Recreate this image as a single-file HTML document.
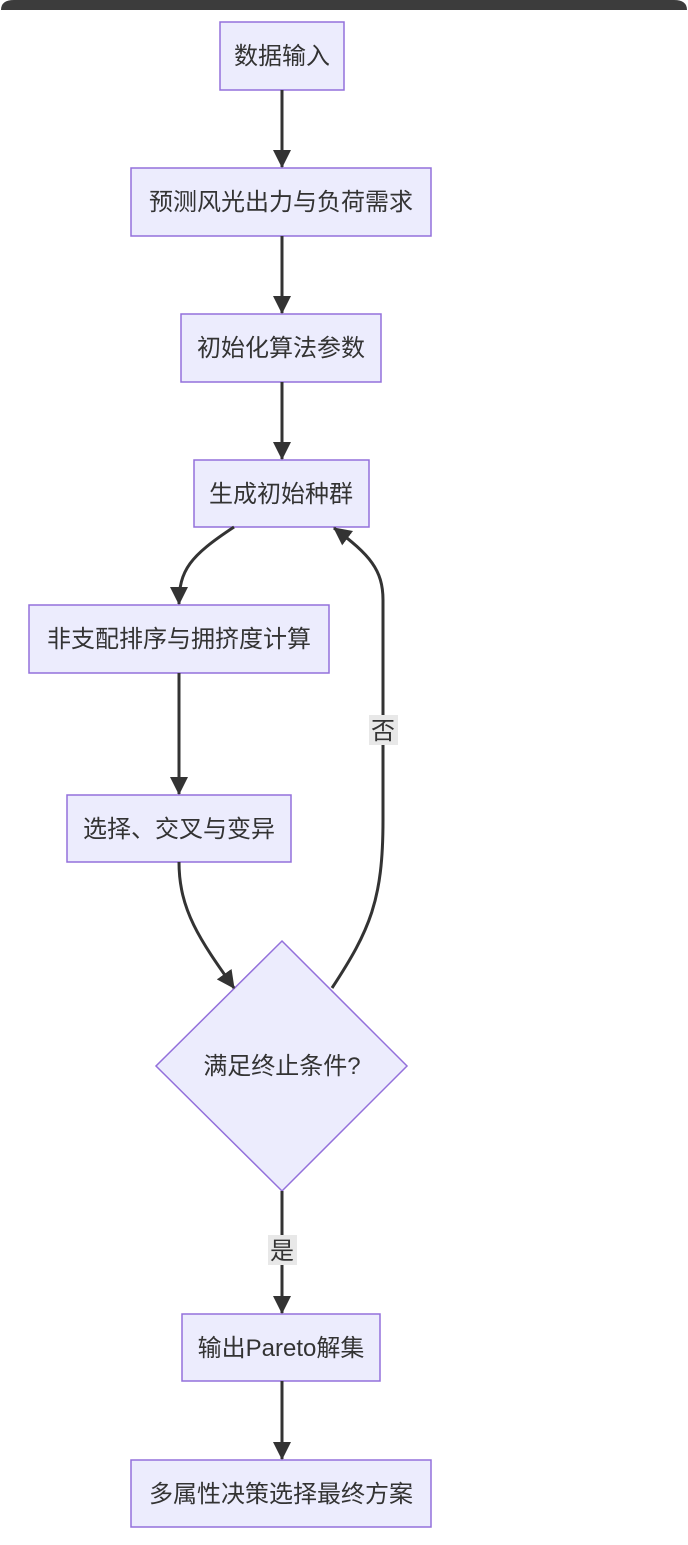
<!DOCTYPE html>
<html><head><meta charset="utf-8"><style>
body{margin:0;background:#fff;}
text{font-family:"Liberation Sans","Noto Sans CJK SC",sans-serif;font-size:24px;fill:#333;}
</style></head><body>
<svg width="688" height="1540" viewBox="0 0 688 1540" xmlns="http://www.w3.org/2000/svg">
<defs><marker id="a" markerWidth="20" markerHeight="20" refX="17" refY="9" orient="auto" markerUnits="userSpaceOnUse"><path d="M0,0 L18,9 L0,18 z" fill="#333"/></marker></defs>
<path d="M1,10 Q1,0 14,0 L674,0 Q687,0 687,10 Z" fill="#3c3c3c"/>
<g fill="#ececfd" stroke="#9370db" stroke-width="1.5">
<rect x="220" y="22" width="124" height="68"/>
<rect x="131" y="168" width="300" height="68"/>
<rect x="181" y="314" width="200" height="68"/>
<rect x="194" y="460" width="175" height="67"/>
<rect x="29" y="605" width="300" height="68"/>
<rect x="67" y="795" width="224" height="67"/>
<polygon points="282,941 407,1066 282,1191 156,1066"/>
<rect x="182" y="1314" width="198" height="67"/>
<rect x="131" y="1460" width="300" height="67"/>
</g>
<g stroke="#333" stroke-width="3" fill="none" marker-end="url(#a)">
<path d="M282,90 L282,167"/>
<path d="M282,236 L282,313"/>
<path d="M282,382 L282,459"/>
<path d="M234,527 C190,556 179,570 179,604"/>
<path d="M179,673 L179,794"/>
<path d="M179,862 C179,910 200,940 234,988"/>
<path d="M332,988 C370,930 383,900 383,820 L383,600 C383,570 370,555 334,528"/>
<path d="M282,1191 L282,1313"/>
<path d="M282,1381 L282,1459"/>
</g>
<rect x="369" y="715" width="29" height="30" fill="#e8e8e8"/>
<text x="383" y="739" text-anchor="middle">否</text>
<rect x="268" y="1235" width="29" height="30" fill="#e8e8e8"/>
<text x="282" y="1259" text-anchor="middle">是</text>
<g text-anchor="middle">
<text x="282" y="64">数据输入</text>
<text x="281" y="210">预测风光出力与负荷需求</text>
<text x="281" y="356">初始化算法参数</text>
<text x="281" y="502">生成初始种群</text>
<text x="179" y="647">非支配排序与拥挤度计算</text>
<text x="179" y="837">选择、交叉与变异</text>
<text x="282" y="1074">满足终止条件?</text>
<text x="281" y="1356">输出Pareto解集</text>
<text x="281" y="1502">多属性决策选择最终方案</text>
</g>
</svg>
</body></html>
